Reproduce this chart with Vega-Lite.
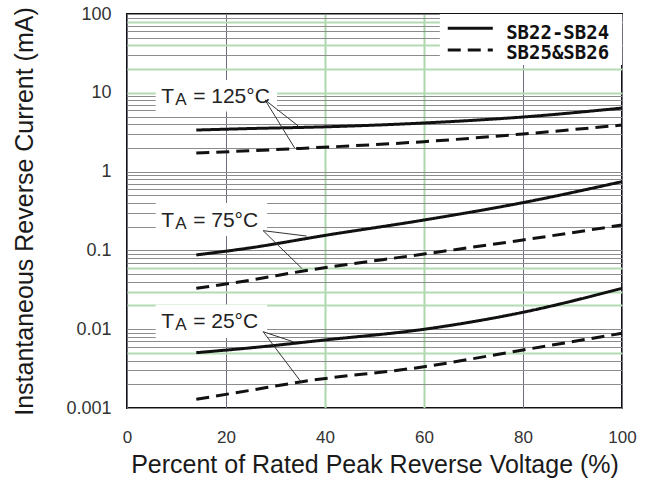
{
  "$schema": "https://vega.github.io/schema/vega-lite/v6.json",
  "width": 495,
  "height": 394,
  "autosize": "none",
  "padding": {"left": 127, "top": 14, "right": 25, "bottom": 75},
  "background": "white",
  "config": {
    "view": {"stroke": "#111", "strokeWidth": 2},
    "font": "Liberation Sans"
  },
  "datasets": {
    "curves": [
      {"series": "SB22-SB24", "temp": "125", "x": 14, "y": 3.37},
      {"series": "SB22-SB24", "temp": "125", "x": 25, "y": 3.52},
      {"series": "SB22-SB24", "temp": "125", "x": 40, "y": 3.7},
      {"series": "SB22-SB24", "temp": "125", "x": 60, "y": 4.14},
      {"series": "SB22-SB24", "temp": "125", "x": 80, "y": 4.93},
      {"series": "SB22-SB24", "temp": "125", "x": 100, "y": 6.4},
      {"series": "SB25&SB26", "temp": "125", "x": 14, "y": 1.72},
      {"series": "SB25&SB26", "temp": "125", "x": 25, "y": 1.84},
      {"series": "SB25&SB26", "temp": "125", "x": 35, "y": 1.97},
      {"series": "SB25&SB26", "temp": "125", "x": 60, "y": 2.4},
      {"series": "SB25&SB26", "temp": "125", "x": 80, "y": 3.0},
      {"series": "SB25&SB26", "temp": "125", "x": 100, "y": 3.9},
      {"series": "SB22-SB24", "temp": "75", "x": 14, "y": 0.0875},
      {"series": "SB22-SB24", "temp": "75", "x": 25, "y": 0.108},
      {"series": "SB22-SB24", "temp": "75", "x": 40, "y": 0.155},
      {"series": "SB22-SB24", "temp": "75", "x": 60, "y": 0.243},
      {"series": "SB22-SB24", "temp": "75", "x": 80, "y": 0.404},
      {"series": "SB22-SB24", "temp": "75", "x": 100, "y": 0.745},
      {"series": "SB25&SB26", "temp": "75", "x": 14, "y": 0.033},
      {"series": "SB25&SB26", "temp": "75", "x": 25, "y": 0.042},
      {"series": "SB25&SB26", "temp": "75", "x": 35, "y": 0.054},
      {"series": "SB25&SB26", "temp": "75", "x": 60, "y": 0.09},
      {"series": "SB25&SB26", "temp": "75", "x": 80, "y": 0.1355},
      {"series": "SB25&SB26", "temp": "75", "x": 100, "y": 0.21},
      {"series": "SB22-SB24", "temp": "25", "x": 14, "y": 0.00504},
      {"series": "SB22-SB24", "temp": "25", "x": 25, "y": 0.0058},
      {"series": "SB22-SB24", "temp": "25", "x": 40, "y": 0.0073},
      {"series": "SB22-SB24", "temp": "25", "x": 60, "y": 0.00998},
      {"series": "SB22-SB24", "temp": "25", "x": 80, "y": 0.0164},
      {"series": "SB22-SB24", "temp": "25", "x": 100, "y": 0.033},
      {"series": "SB25&SB26", "temp": "25", "x": 14, "y": 0.00129},
      {"series": "SB25&SB26", "temp": "25", "x": 25, "y": 0.00168},
      {"series": "SB25&SB26", "temp": "25", "x": 35, "y": 0.00214},
      {"series": "SB25&SB26", "temp": "25", "x": 60, "y": 0.00334},
      {"series": "SB25&SB26", "temp": "25", "x": 80, "y": 0.00545},
      {"series": "SB25&SB26", "temp": "25", "x": 100, "y": 0.00887}
    ],
    "boxes": [
      {"name": "125", "x": 5.8, "x2": 30.3, "y": 5.8, "y2": 14.5},
      {"name": "75", "x": 5.8, "x2": 28.3, "y": 0.152, "y2": 0.40},
      {"name": "25", "x": 5.8, "x2": 28.3, "y": 0.00773, "y2": 0.0205},
      {"name": "legend", "x": 63.2, "x2": 100, "y": 22.5, "y2": 100}
    ],
    "arrows": [
      {"temp": "125", "x": 27.9, "y": 8.1, "x2": 34.6, "y2": 3.79},
      {"temp": "125", "x": 27.9, "y": 8.1, "x2": 33.9, "y2": 1.98},
      {"temp": "75", "x": 27.5, "y": 0.178, "x2": 36.3, "y2": 0.152},
      {"temp": "75", "x": 27.5, "y": 0.178, "x2": 35.3, "y2": 0.0593},
      {"temp": "25", "x": 27.5, "y": 0.00929, "x2": 33.6, "y2": 0.00693},
      {"temp": "25", "x": 27.5, "y": 0.00929, "x2": 35.3, "y2": 0.00209}
    ],
    "labels": [
      {"temp": "125", "x": 6.9, "y": 7.36, "rest": "= 125°C"},
      {"temp": "75", "x": 6.9, "y": 0.2, "rest": "= 75°C"},
      {"temp": "25", "x": 6.9, "y": 0.01025, "rest": "= 25°C"}
    ],
    "legend": [
      {"series": "SB22-SB24", "x": 64.8, "x2": 73.9, "y": 65.9, "tx": 76.6, "ty": 56.6},
      {"series": "SB25&SB26", "x": 64.8, "x2": 73.9, "y": 34.9, "tx": 76.6, "ty": 31.6}
    ]
  },
  "encoding": {
    "x": {
      "field": "x",
      "type": "quantitative",
      "scale": {"domain": [0, 100], "nice": false, "zero": false},
      "axis": {
        "title": "Percent of Rated Peak Reverse Voltage (%)",
        "values": [0, 20, 40, 60, 80, 100],
        "grid": true,
        "gridColor": {"condition": {"test": "datum.value == 40 || datum.value == 60", "value": "#acd8ac"}, "value": "#6c6c7c"},
        "gridWidth": {"condition": {"test": "datum.value == 40 || datum.value == 60", "value": 2}, "value": 1},
        "domain": false,
        "ticks": false,
        "labelPadding": 21,
        "labelFontSize": 17,
        "labelColor": "#333",
        "labelFlush": false,
        "titleFontSize": 25,
        "titleFontWeight": "normal",
        "titleColor": "#1a1a1a",
        "titlePadding": 7
      }
    },
    "y": {
      "field": "y",
      "type": "quantitative",
      "scale": {"type": "log", "domain": [0.001, 100], "nice": false},
      "axis": {
        "title": "Instantaneous Reverse Current (mA)",
        "values": [0.001, 0.002, 0.003, 0.004, 0.005, 0.006, 0.007, 0.008, 0.009,
                   0.01, 0.02, 0.03, 0.04, 0.05, 0.06, 0.07, 0.08, 0.09,
                   0.1, 0.2, 0.3, 0.4, 0.5, 0.6, 0.7, 0.8, 0.9,
                   1, 2, 3, 4, 5, 6, 7, 8, 9,
                   10, 20, 30, 40, 50, 60, 70, 80, 90, 100],
        "labelExpr": "indexof([0.001, 0.01, 0.1, 1, 10, 100], datum.value) >= 0 ? format(datum.value, '~g') : ''",
        "labelOverlap": false,
        "grid": true,
        "gridColor": {"condition": {"test": "indexof([80, 40, 20, 10, 0.06, 0.03, 0.02, 0.005], datum.value) >= 0", "value": "#b3dbb3"}, "value": "#8c8c8c"},
        "gridWidth": {"condition": {"test": "indexof([80, 40, 20, 10, 0.06, 0.03, 0.02, 0.005], datum.value) >= 0", "value": 2}, "value": 1},
        "domain": false,
        "ticks": false,
        "labelPadding": 16,
        "labelFontSize": 18,
        "labelColor": "#333",
        "labelFlush": false,
        "titleFontSize": 25,
        "titleFontWeight": "normal",
        "titleColor": "#1a1a1a",
        "titlePadding": 28
      }
    }
  },
  "layer": [
    {
      "data": {"name": "boxes"},
      "mark": {"type": "rect", "fill": "white", "stroke": null},
      "encoding": {
        "x2": {"field": "x2"},
        "y2": {"field": "y2"}
      }
    },
    {
      "data": {"name": "curves"},
      "mark": {"type": "line", "color": "#111", "strokeWidth": 3, "interpolate": "monotone"},
      "encoding": {
        "strokeDash": {
          "field": "series",
          "type": "nominal",
          "scale": {"domain": ["SB22-SB24", "SB25&SB26"], "range": [[1, 0], [13, 7]]},
          "legend": null
        },
        "detail": {"field": "temp"}
      }
    },
    {
      "data": {"name": "arrows"},
      "mark": {"type": "rule", "color": "#333", "strokeWidth": 1},
      "encoding": {
        "x2": {"field": "x2"},
        "y2": {"field": "y2"}
      }
    },
    {
      "data": {"name": "labels"},
      "mark": {"type": "text", "text": "T", "align": "left", "baseline": "alphabetic", "fontSize": 21, "color": "#222"}
    },
    {
      "data": {"name": "labels"},
      "mark": {"type": "text", "text": "A", "align": "left", "baseline": "alphabetic", "fontSize": 17, "dx": 14, "dy": 2, "color": "#222"}
    },
    {
      "data": {"name": "labels"},
      "mark": {"type": "text", "align": "left", "baseline": "alphabetic", "fontSize": 21, "dx": 32, "color": "#222"},
      "encoding": {"text": {"field": "rest"}}
    },
    {
      "data": {"name": "legend"},
      "mark": {"type": "rule", "color": "#111", "strokeWidth": 3},
      "encoding": {
        "x2": {"field": "x2"},
        "strokeDash": {"field": "series", "type": "nominal", "legend": null}
      }
    },
    {
      "data": {"name": "legend"},
      "mark": {"type": "text", "align": "left", "baseline": "middle", "font": "DejaVu Sans Mono", "fontWeight": "bold", "fontSize": 19, "color": "#111"},
      "encoding": {
        "x": {"field": "tx", "type": "quantitative"},
        "y": {"field": "ty", "type": "quantitative"},
        "text": {"field": "series"}
      }
    }
  ]
}
